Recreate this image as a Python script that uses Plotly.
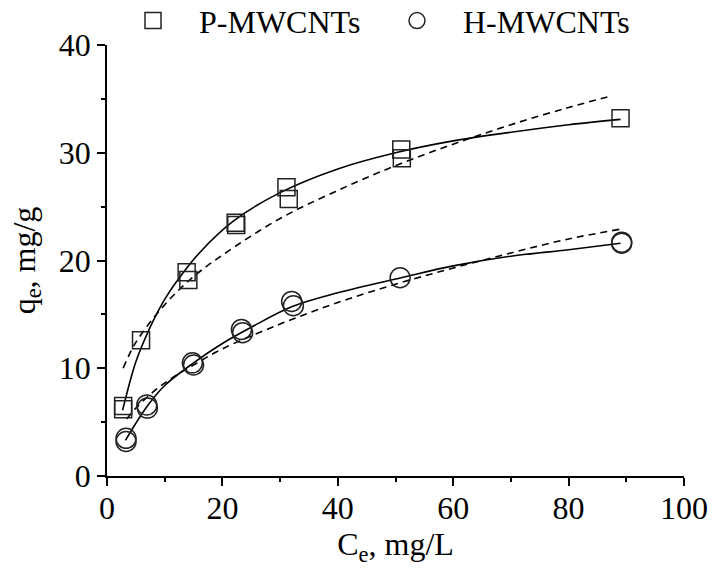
import plotly.graph_objects as go

# Measured data (duplicates included)
p_x = [2.8, 2.8, 5.9, 13.8, 14.1, 22.3, 22.4, 31.1, 31.5, 51.0, 51.1, 89.0]
p_y = [6.5, 6.2, 12.6, 18.9, 18.2, 23.5, 23.3, 26.8, 25.7, 30.3, 29.5, 33.2]
h_x = [3.3, 3.3, 6.9, 7.0, 14.8, 15.0, 23.3, 23.5, 32.0, 32.3, 50.8, 89.2, 89.2]
h_y = [3.5, 3.2, 6.6, 6.3, 10.5, 10.3, 13.6, 13.3, 16.2, 15.8, 18.4, 21.7, 21.6]

# Fitted curves
p_solid_x = [2.7, 4, 5, 6, 8, 10, 12, 16, 22, 30, 40, 50, 60, 70, 80, 89]
p_solid_y = [6.1, 8.8, 10.6, 12.0, 14.4, 16.4, 18.0, 20.7, 23.7, 26.3, 28.5, 30.0, 31.1, 31.9, 32.6, 33.1]
p_dash_x = [2.8, 5, 10, 15, 20, 30, 40, 50, 60, 70, 80, 87.6]
p_dash_y = [10.0, 12.4, 15.9, 18.5, 20.5, 23.9, 26.5, 28.8, 30.8, 32.6, 34.2, 35.3]
h_solid_x = [3.2, 5, 7, 10, 15, 20, 25, 32, 40, 51, 60, 70, 80, 89]
h_solid_y = [3.3, 4.9, 6.5, 8.4, 10.5, 12.3, 13.8, 15.7, 17.0, 18.4, 19.5, 20.4, 21.0, 21.6]
h_dash_x = [3.4, 5, 8, 11, 15, 20, 30, 40, 50, 60, 70, 80, 88.9]
h_dash_y = [5.3, 6.3, 7.8, 9.0, 10.3, 11.8, 14.1, 16.1, 17.8, 19.3, 20.7, 22.0, 22.9]

x_ticks = [0, 20, 40, 60, 80, 100]
y_ticks = [0, 10, 20, 30, 40]

FONT = "Liberation Serif, Times New Roman, serif"

fig = go.Figure()
for xs, ys in [(p_solid_x, p_solid_y), (h_solid_x, h_solid_y)]:
    fig.add_trace(go.Scatter(x=xs, y=ys, mode="lines", line=dict(color="black", width=1.6, shape="spline"),
                             showlegend=False, hoverinfo="skip"))
for xs, ys in [(p_dash_x, p_dash_y), (h_dash_x, h_dash_y)]:
    fig.add_trace(go.Scatter(x=xs, y=ys, mode="lines", line=dict(color="black", width=1.6, dash="7px,5px", shape="spline"),
                             showlegend=False, hoverinfo="skip"))
fig.add_trace(go.Scatter(x=p_x, y=p_y, mode="markers", name="P-MWCNTs",
                         marker=dict(symbol="square-open", size=17, color="#222", line=dict(width=1.5, color="#222"))))
fig.add_trace(go.Scatter(x=h_x, y=h_y, mode="markers", name="H-MWCNTs",
                         marker=dict(symbol="circle-open", size=20, color="#222", line=dict(width=1.5, color="#222"))))

axis_common = dict(showgrid=False, zeroline=False, showline=True, linecolor="black", linewidth=1.5,
                   ticks="outside", ticklen=8, tickwidth=1.5, tickcolor="black",
                   tickfont=dict(family=FONT, size=32, color="black"),
                   minor=dict(ticks="outside", ticklen=4, tickwidth=1.5, tickcolor="black", showgrid=False))

fig.update_xaxes(range=[0, 100], tickvals=x_ticks, minor_dtick=10, ticklabelstandoff=-5,
                 title=dict(text="C<sub>e</sub>, mg/L", font=dict(family=FONT, size=32, color="black"), standoff=4),
                 **axis_common)
fig.update_yaxes(range=[0, 40], tickvals=y_ticks, minor_dtick=5,
                 title=dict(text="q<sub>e</sub>, mg/g", font=dict(family=FONT, size=32, color="black"), standoff=14),
                 **axis_common)

fig.update_layout(
    width=712, height=579,
    margin=dict(l=107, r=28, t=45, b=103, autoexpand=False),
    paper_bgcolor="white", plot_bgcolor="white",
    font=dict(family=FONT, color="black"),
    legend=dict(orientation="h", x=0.0, y=1.12, xref="paper", yref="paper",
                xanchor="left", yanchor="top",
                font=dict(family=FONT, size=32, color="black"),
                bgcolor="rgba(0,0,0,0)", itemwidth=82,
                entrywidth=167, entrywidthmode="pixels"),
)

fig.write_html("out.html")
